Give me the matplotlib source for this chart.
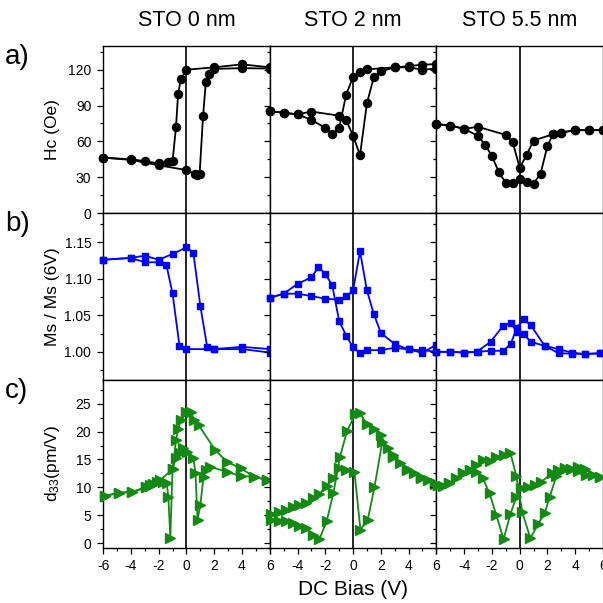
import matplotlib
matplotlib.use('Agg')
import matplotlib.pyplot as plt
from matplotlib.ticker import MultipleLocator

plt.rcParams['font.family'] = ['Liberation Sans', 'DejaVu Sans']
plt.rcParams['mathtext.default'] = 'regular'
plt.rcParams['axes.unicode_minus'] = False

# column titles / row labels
titles = ['STO 0 nm', 'STO 2 nm', 'STO 5.5 nm']
row_labels = ['Hc (Oe)', 'Ms / Ms (6V)', 'd$_{33}$(pm/V)']
panel_tags = ['a)', 'b)', 'c)']
x_ticks = [-6, -4, -2, 0, 2, 4, 6]

# ---- Hc (Oe) ----
hc0_up_v = [-6, -4, -3, -2, -1.3, -1.0, -0.75, -0.6, -0.4, 0, 2, 4, 6]
hc0_up = [46.4, 45, 43.5, 41.5, 43, 43.5, 72, 100, 112, 120, 122, 124.5, 122]
hc0_dn_v = [6, 4, 2, 1.6, 1.4, 1.2, 0.95, 0.75, 0.6, 0, -2, -4, -6]
hc0_dn = [121, 121.3, 120.7, 116, 110, 81.5, 33, 31.7, 33, 36, 40, 44.5, 46.4]

hc2_up_v = [-6, -5, -4, -3, -2, -1.5, -1, -0.5, 0, 0.5, 1, 3, 4, 5, 6]
hc2_up = [85.3, 84, 82.6, 78, 71.3, 65.8, 71.3, 99, 114, 118, 120.3, 122, 123, 124.2, 124.7]
hc2_dn_v = [6, 5, 4, 3, 2, 1.5, 1, 0.5, 0, -0.5, -1, -3, -4, -5, -6]
hc2_dn = [121, 120, 122, 122, 118.6, 114, 92, 48.6, 64.6, 78, 81.5, 85, 82.6, 84, 85.3]

hc55_up_v = [-6, -5, -4, -3, -2.5, -2, -1.5, -1, -0.5, 0, 0.5, 1, 1.5, 2, 2.4, 3, 4, 5, 6]
hc55_up = [74.4, 73.3, 70.5, 64.6, 57.3, 47.7, 34.2, 25.3, 25.3, 28.1, 26.4, 24.7, 32.9, 56.2, 66, 67.4, 69.4, 69.4, 69.4]
hc55_dn_v = [6, 5, 4, 3, 2.4, 1, 0.5, 0, -0.5, -1, -3, -4, -5, -6]
hc55_dn = [69.4, 69.4, 69.4, 67.4, 66, 60.7, 48.6, 37.9, 59.3, 65.4, 72.2, 70.5, 73.3, 74.4]

# ---- Ms / Ms(6V) ----
ms0_up_v = [-6, -4, -3, -2, -1, 0, 0.5, 1, 1.5, 2, 4, 6]
ms0_up = [1.126, 1.1286, 1.1317, 1.126, 1.134, 1.143, 1.1354, 1.063, 1.006, 1.0037, 1.0068, 1.0037]
ms0_dn_v = [6, 4, 2, 0, -0.5, -1, -1.45, -2, -3, -4, -6]
ms0_dn = [0.999, 1.0037, 1.0037, 1.0037, 1.008, 1.080, 1.1195, 1.1226, 1.1226, 1.1286, 1.126]

ms2_up_v = [-6, -5, -4, -3, -2, -1, -0.5, 0, 0.5, 1, 1.5, 2, 3, 4, 5, 6]
ms2_up = [1.074, 1.0796, 1.0796, 1.0763, 1.0727, 1.0714, 1.0759, 1.084, 1.1376, 1.084, 1.0514, 1.0259, 1.0105, 1.0032, 0.9986, 1.01]
ms2_dn_v = [6, 5, 4, 3, 2, 1, 0.5, 0, -0.5, -1, -1.5, -2, -2.5, -3, -4, -5, -6]
ms2_dn = [1.0, 1.0023, 1.0032, 1.0055, 1.0023, 1.0023, 0.9986, 1.006, 1.0223, 1.0422, 1.0909, 1.1068, 1.1158, 1.102, 1.093, 1.0796, 1.074]

ms55_up_v = [-6, -5, -4, -3, -2.1, -1.2, -0.65, -0.2, 0.3, 0.8, 1.8, 2.8, 3.8, 4.7, 5.8]
ms55_up = [1.0, 1.0, 0.999, 1.0, 1.0014, 1.0014, 1.0105, 1.0332, 1.0445, 1.0363, 1.0082, 1.0037, 0.9986, 0.997, 0.998]
ms55_dn_v = [5.8, 4.7, 3.8, 2.8, 1.8, 0.8, 0.3, -0.2, -0.65, -1.2, -2.1, -3.1, -4, -5, -6]
ms55_dn = [0.998, 0.997, 0.9975, 0.998, 1.0082, 1.0136, 1.0241, 1.0268, 1.0395, 1.0354, 1.0136, 1.0, 0.999, 1.0, 1.0]

# ---- d33 (pm/V) ----
d0_up_v = [-5.88, -4.84, -3.9, -2.9, -2.6, -2.38, -2.14, -1.9, -1.0, -0.75, -0.46, -0.22, 0.07, 0.5, 0.65, 0.8, 1.0,
           1.23, 1.4, 1.7, 2.9, 3.9, 4.9, 5.8]
d0_up = [8.45, 9.04, 9.2, 10.0, 10.3, 10.6, 10.9, 11.3, 13.2, 15.3, 16.2, 17.0, 16.4, 15.2, 12.6, 4.2, 6.8,
         11.9, 13.1, 13.7, 12.8, 12.0, 11.9, 11.3]
d0_dn_v = [5.8, 4.9, 3.9, 2.9, 2.07, 0.89, 0.58, 0.31, 0.0, -0.41, -0.6, -0.75, -1.0, -1.16, -1.3, -1.42, -1.66,
           -1.9, -2.6, -2.9, -3.9, -4.84, -5.88]
d0_dn = [11.3, 11.9, 13.4, 14.6, 16.7, 21.1, 22.0, 23.5, 23.5, 22.0, 20.5, 18.4, 13.2, 0.9, 8.3, 10.7, 11.0,
         11.2, 10.5, 10.0, 9.2, 9.0, 8.45]

d2_up_v = [-5.93, -5.3, -4.84, -4.36, -3.88, -3.4, -2.9, -2.43, -1.9, -1.42, -0.94, -0.43, 0.17, 0.5, 0.99, 1.54,
           2.0, 2.5, 2.9, 3.4, 3.9, 4.4, 4.9, 5.4, 5.9]
d2_up = [4.2, 4.0, 3.9, 3.6, 3.1, 2.7, 1.5, 0.7, 3.9, 8.9, 15.5, 20.1, 23.2, 23.3, 21.3, 20.4,
         19.3, 17.0, 15.8, 14.3, 13.3, 12.5, 11.9, 11.3, 10.7]
d2_dn_v = [5.9, 4.9, 3.9, 2.9, 2.1, 1.54, 1.06, 0.53, 0.1, -0.48, -0.99, -1.42, -1.9, -2.43, -2.9, -3.4, -3.88,
           -4.36, -4.84, -5.3, -5.93]
d2_dn = [10.6, 11.7, 13.1, 15.5, 18.1, 10.0, 4.2, 2.4, 12.8, 13.1, 13.4, 11.6, 10.3, 8.75, 8.0, 7.1, 6.8,
         6.4, 5.95, 5.6, 5.2]

d55_up_v = [-5.9, -5.54, -5.06, -4.58, -4.1, -3.6, -3.13, -2.65, -2.17, -1.69, -1.16, -0.67, -0.24, 0.19, 0.77,
            1.33, 1.8, 2.17, 2.77, 3.25, 3.73, 4.2, 4.7, 5.3, 5.8]
d55_up = [10.4, 10.2, 10.7, 11.6, 12.5, 13.1, 14.0, 14.9, 14.8, 15.4, 15.8, 16.2, 12.0, 5.5, 0.9,
          3.4, 5.4, 8.3, 13.1, 13.4, 13.3, 13.7, 13.3, 12.2, 11.8]
d55_dn_v = [5.8, 4.8, 4.2, 3.7, 3.25, 2.65, 2.3, 1.57, 1.08, 0.6, 0.12, -0.24, -0.67, -1.16, -1.69, -2.17,
            -2.65, -3.13, -3.6, -4.1, -5.06, -5.9]
d55_dn = [11.8, 12.2, 13.0, 13.3, 13.2, 12.0, 12.5, 11.0, 10.4, 10.1, 9.8, 8.3, 5.2, 0.7, 5.05, 8.9,
          11.6, 12.8, 13.1, 12.5, 10.7, 10.4]

# 每一列：資料、顏色、marker、y 範圍、主/次刻度
rows = [
    dict(data=[(hc0_up_v, hc0_up, hc0_dn_v, hc0_dn), (hc2_up_v, hc2_up, hc2_dn_v, hc2_dn),
               (hc55_up_v, hc55_up, hc55_dn_v, hc55_dn)],
         color='black', marker='o', ms=5.8, ylim=(0, 140), major=30, minor=15, fmt='{:.0f}'),
    dict(data=[(ms0_up_v, ms0_up, ms0_dn_v, ms0_dn), (ms2_up_v, ms2_up, ms2_dn_v, ms2_dn),
               (ms55_up_v, ms55_up, ms55_dn_v, ms55_dn)],
         color='#0000ff', marker='s', ms=5, ylim=(0.961, 1.19), major=0.05, minor=0.025, fmt='{:.2f}'),
    dict(data=[(d0_up_v, d0_up, d0_dn_v, d0_dn), (d2_up_v, d2_up, d2_dn_v, d2_dn),
               (d55_up_v, d55_up, d55_dn_v, d55_dn)],
         color='#138a13', marker='>', ms=6.5, ylim=(-0.8, 29.2), major=5, minor=2.5, fmt='{:.0f}'),
]

fig, axes = plt.subplots(3, 3, figsize=(6.03, 6.03), dpi=100)
fig.subplots_adjust(left=0.171, right=1.0, top=0.924, bottom=0.092, wspace=0, hspace=0)

for r, row in enumerate(rows):
    for c in range(3):
        ax = axes[r, c]
        up_v, up, dn_v, dn = row['data'][c]
        for xs, ys in [(up_v, up), (dn_v, dn)]:
            ax.plot(xs, ys, color=row['color'], marker=row['marker'], ms=row['ms'],
                    lw=1.3, mec=row['color'], mfc=row['color'], clip_on=False, zorder=3)
        ax.axvline(0, color='black', lw=1.2, zorder=2)
        ax.set_xlim(-6, 6)
        ax.set_ylim(*row['ylim'])
        ax.xaxis.set_major_locator(MultipleLocator(2))
        ax.xaxis.set_minor_locator(MultipleLocator(1))
        ax.yaxis.set_major_locator(MultipleLocator(row['major']))
        ax.yaxis.set_minor_locator(MultipleLocator(row['minor']))
        ax.tick_params(which='both', direction='out', labelsize=10, width=0.9)
        ax.tick_params(which='major', length=4.5, pad=4)
        ax.tick_params(which='minor', length=2.5)
        for s in ax.spines.values():
            s.set_linewidth(1.0)
        if c > 0:
            ax.tick_params(labelleft=False)
        else:
            fmt = row['fmt']
            ax.yaxis.set_major_formatter(plt.FuncFormatter(lambda v, p, f=fmt: f.format(v)))
        if r < 2:
            ax.tick_params(labelbottom=False)
        else:
            ax.set_xticks(x_ticks)
            labels = [str(t) for t in x_ticks]
            if c > 0:
                labels[0] = ''
            ax.set_xticklabels(labels)
        if r == 0:
            pos = ax.get_position()
            fig.text((pos.x0 + pos.x1) / 2, 1 - 20 / 603, titles[c], ha='center', va='center', fontsize=15.5)

# y 軸標籤與 a) b) c)
for r in range(3):
    pos = axes[r, 0].get_position()
    yc = (pos.y0 + pos.y1) / 2
    fig.text(0.087, yc, row_labels[r], rotation=90, ha='center', va='center', fontsize=12.5)
    fig.text(0.008, pos.y1 - 0.018, panel_tags[r], ha='left', va='center', fontsize=20)

fig.text(0.586, 0.022, 'DC Bias (V)', ha='center', va='center', fontsize=15)

plt.savefig('out.png', dpi=100)
